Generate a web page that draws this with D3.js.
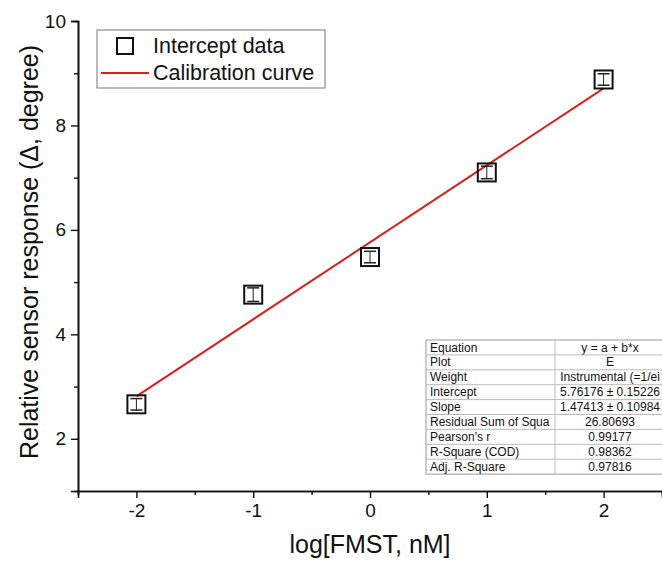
<!DOCTYPE html>
<html>
<head>
<meta charset="utf-8">
<script src="https://cdn.jsdelivr.net/npm/d3@7"></script>
<style>
  body { margin: 0; background: #fff; }
  svg { display: block; font-family: "Liberation Sans", Arial, sans-serif; }
</style>
</head>
<body>
<div id="chart"></div>
<script>
// chart data
let xValues = [-2, -1, 0, 1, 2];
let yValues = [2.66, 4.76, 5.48, 7.1, 8.88];
let yErrors = [0.11, 0.13, 0.11, 0.12, 0.11];
let fitIntercept = 5.76176;
let fitSlope = 1.47413;
let xTicks = [-2, -1, 0, 1, 2];
let yTicks = [2, 4, 6, 8, 10];
let tableLabels = ["Equation", "Plot", "Weight", "Intercept", "Slope", "Residual Sum of Squa", "Pearson's r", "R-Square (COD)", "Adj. R-Square"];
let tableValues = ["y = a + b*x", "E", "Instrumental (=1/ei", "5.76176 \u00b1 0.15226", "1.47413 \u00b1 0.10984", "26.80693", "0.99177", "0.98362", "0.97816"];

let svgWidth = 662;
let svgHeight = 562;

let margin = { top: 21, right: 0, bottom: 71, left: 78 };
let width = svgWidth - margin.left - margin.right;
let height = svgHeight - margin.top - margin.bottom;

let svg = d3.select("#chart")
  .append("svg")
  .attr("width", svgWidth)
  .attr("height", svgHeight);

let chartGroup = svg.append("g")
  .attr("transform", `translate(${margin.left}, ${margin.top})`);

let xScale = d3.scaleLinear().domain([-2.5, 2.5]).range([0, width]);
let yScale = d3.scaleLinear().domain([1, 10]).range([height, 0]);

// minor ticks first, then major (plain hyphen for negatives)
let xAxisMinor = d3.axisBottom(xScale)
  .tickValues(d3.range(-2.5, 2.51, 0.5).filter(d => !xTicks.includes(d)))
  .tickSize(4).tickFormat("");
let xAxisMajor = d3.axisBottom(xScale).tickValues(xTicks).tickSize(7).tickPadding(6)
  .tickFormat(d => String(d));

let yAxisMinor = d3.axisLeft(yScale).tickValues([3, 5, 7, 9]).tickSize(4).tickFormat("");
let yAxisMajor = d3.axisLeft(yScale).tickValues(yTicks).tickSize(7).tickPadding(5)
  .tickFormat(d => String(d));

function styleAxis(g) {
  g.select(".domain").attr("stroke", "#111").attr("stroke-width", 1.6);
  g.selectAll(".tick line").attr("stroke", "#111").attr("stroke-width", 1.4);
  g.selectAll(".tick text").attr("fill", "#111").style("font-size", "19px")
    .style("font-family", "Liberation Sans, Arial, sans-serif");
}

chartGroup.append("g").attr("transform", `translate(0, ${height})`).call(xAxisMinor).call(styleAxis);
chartGroup.append("g").attr("transform", `translate(0, ${height})`).call(xAxisMajor).call(styleAxis);
chartGroup.append("g").call(yAxisMinor).call(styleAxis);
chartGroup.append("g").call(yAxisMajor).call(styleAxis);

// calibration line
let lineData = [xValues[0], xValues[xValues.length - 1]].map(x => ({ x: x, y: fitIntercept + fitSlope * x }));
chartGroup.append("path")
  .datum(lineData)
  .attr("fill", "none")
  .attr("stroke", "#d42020")
  .attr("stroke-width", 2)
  .attr("d", d3.line().x(d => xScale(d.x)).y(d => yScale(d.y)));

// data squares with error bars
let points = xValues.map((x, i) => ({ x: x, y: yValues[i], e: yErrors[i] }));
let pointGroup = chartGroup.selectAll(".pt")
  .data(points)
  .enter()
  .append("g")
  .attr("class", "pt");

pointGroup.append("rect")
  .attr("x", d => xScale(d.x) - 9)
  .attr("y", d => yScale(d.y) - 9)
  .attr("width", 18)
  .attr("height", 18)
  .attr("fill", "none")
  .attr("stroke", "#111")
  .attr("stroke-width", 2);

pointGroup.append("line")
  .attr("x1", d => xScale(d.x)).attr("x2", d => xScale(d.x))
  .attr("y1", d => yScale(d.y + d.e)).attr("y2", d => yScale(d.y - d.e))
  .attr("stroke", "#222").attr("stroke-width", 1);

[1, -1].forEach(function(s) {
  pointGroup.append("line")
    .attr("x1", d => xScale(d.x) - 6).attr("x2", d => xScale(d.x) + 6)
    .attr("y1", d => yScale(d.y + s * d.e)).attr("y2", d => yScale(d.y + s * d.e))
    .attr("stroke", "#222").attr("stroke-width", 1.5);
});

// legend
let legend = svg.append("g");
legend.append("rect")
  .attr("x", 97).attr("y", 30).attr("width", 228).attr("height", 58)
  .attr("fill", "#fff").attr("stroke", "#777").attr("stroke-width", 1);
legend.append("rect")
  .attr("x", 117).attr("y", 38).attr("width", 16).attr("height", 16)
  .attr("fill", "none").attr("stroke", "#111").attr("stroke-width", 2);
legend.append("text").attr("x", 153).attr("y", 53)
  .style("font-size", "21.5px").attr("fill", "#111").text("Intercept data");
legend.append("line")
  .attr("x1", 101).attr("x2", 149).attr("y1", 73).attr("y2", 73)
  .attr("stroke", "#d42020").attr("stroke-width", 2);
legend.append("text").attr("x", 153).attr("y", 80)
  .style("font-size", "21.5px").attr("fill", "#111").text("Calibration curve");

// fit table
let tableX = 426, tableY = 340, rowH = 14.9, col1W = 129, col2W = 110;
let table = svg.append("g");
table.append("rect")
  .attr("x", tableX).attr("y", tableY)
  .attr("width", col1W + col2W).attr("height", rowH * tableLabels.length)
  .attr("fill", "#fff").attr("stroke", "#999").attr("stroke-width", 1);

let rows = table.selectAll(".row")
  .data(tableLabels)
  .enter()
  .append("g")
  .attr("class", "row")
  .attr("transform", (d, i) => `translate(${tableX}, ${tableY + i * rowH})`);

rows.filter((d, i) => i > 0).append("line")
  .attr("x1", 0).attr("x2", col1W + col2W).attr("y1", 0).attr("y2", 0)
  .attr("stroke", "#bbb").attr("stroke-width", 1);

rows.append("text")
  .attr("x", 4).attr("y", rowH - 3.3)
  .style("font-size", "12px").attr("fill", "#111")
  .text(d => d);

rows.append("text")
  .attr("x", col1W + col2W / 2).attr("y", rowH - 3.3)
  .attr("text-anchor", "middle")
  .style("font-size", "12px").attr("fill", "#111")
  .text((d, i) => tableValues[i]);

table.append("line")
  .attr("x1", tableX + col1W).attr("x2", tableX + col1W)
  .attr("y1", tableY).attr("y2", tableY + rowH * tableLabels.length)
  .attr("stroke", "#bbb").attr("stroke-width", 1);

// axis titles
svg.append("text")
  .attr("x", margin.left + xScale(0))
  .attr("y", 553)
  .attr("text-anchor", "middle")
  .style("font-size", "25px").attr("fill", "#111")
  .text("log[FMST, nM]");

svg.append("text")
  .attr("transform", `translate(38, ${margin.top + height / 2 - 4}) rotate(-90)`)
  .attr("text-anchor", "middle")
  .style("font-size", "25px").attr("fill", "#111")
  .text("Relative sensor response (\u0394, degree)");
</script>
</body>
</html>
